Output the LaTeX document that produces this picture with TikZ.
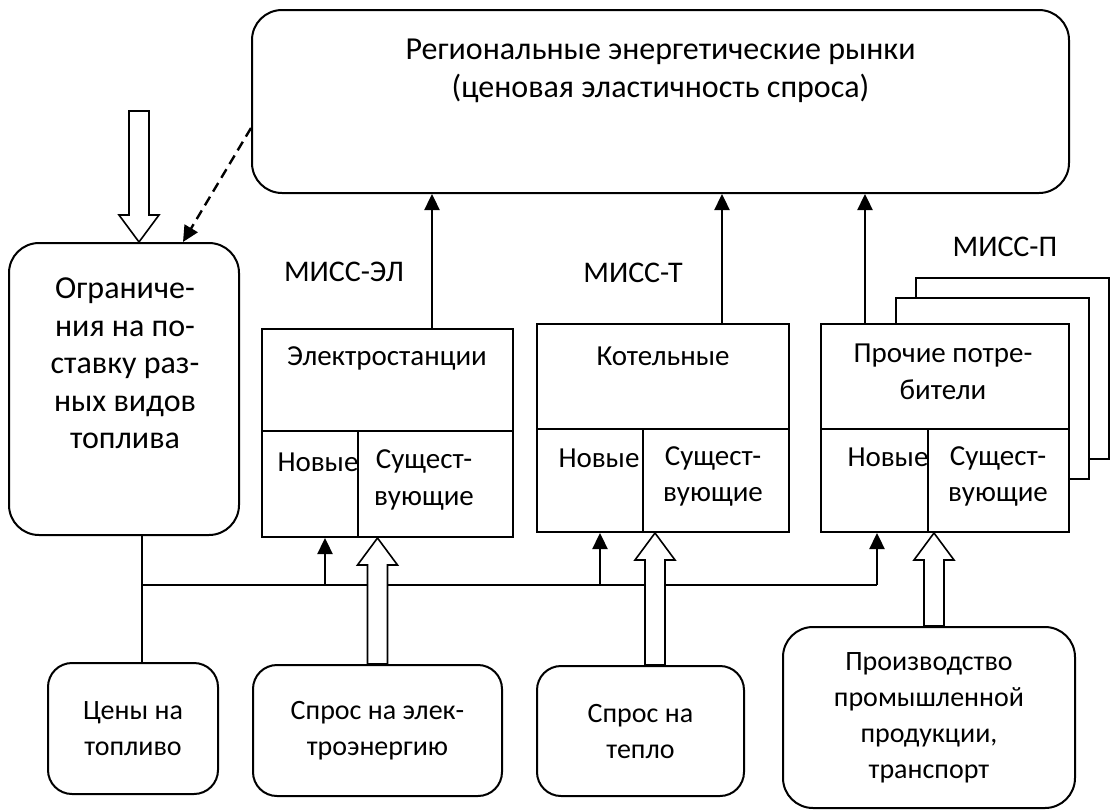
\documentclass[tikz,border=0pt]{standalone}
\usepackage{fontspec}
\setmainfont{Carlito}
\usepackage{tikz}
\usetikzlibrary{arrows.meta, positioning, calc}

% wide hollow arrow between two points on one vertical
\newcommand{\fatarrow}[2]{%
    \draw[hollow] let \p1=(#1), \p2=(#2), \n1={sign(\y2-\y1)} in
        (\x1-5pt,\y1) -- (\x1-5pt,\y2-\n1*13.5pt) -- (\x1-10pt,\y2-\n1*13.5pt)
        -- (\x1,\y2) -- (\x1+10pt,\y2-\n1*13.5pt) -- (\x1+5pt,\y2-\n1*13.5pt)
        -- (\x1+5pt,\y1) -- cycle;}

\begin{document}
\begin{tikzpicture}[x=0.5pt, y=-0.5pt,
    every node/.style={font=\fontsize{14.5pt}{18.4pt}\selectfont},
    bigtext/.style={font=\fontsize{16pt}{18.8pt}\selectfont},
    smalltext/.style={font=\fontsize{14pt}{18pt}\selectfont},
    rbox/.style={draw, line width=1pt, rounded corners=12pt, align=center, smalltext},
    cell/.style={draw, line width=1pt, fill=white},
    arr/.style={line width=1.2pt, -{Triangle[width=7.5pt,length=8pt]}},
    bus/.style={line width=0.8pt},
    hollow/.style={draw, line width=0.8pt, fill=white}]
    \useasboundingbox (0,0) rectangle (1110,810);

    % markets and fuel limits
    \node[rbox, rounded corners=15pt, minimum width=408.5pt, minimum height=91.5pt]
        (market) at (660.5,101.5) {};
    \node[align=center, bigtext] (marketText) at (660.5,71)
        {Региональные энергетические рынки\\(ценовая эластичность спроса)};
    \node[rbox, rounded corners=15pt, minimum width=115pt, minimum height=146pt]
        (limits) at (124,389) {};
    \node[align=center, bigtext] (limitsText) at (125,363.5)
        {Ограниче-\\ния на по-\\ставку раз-\\ных видов\\топлива};

    % model blocks
    \node[cell, minimum width=96.5pt, minimum height=90.5pt] (otherBackB) at (1012,368) {};
    \node[cell, minimum width=96.5pt, minimum height=90.5pt] (otherBackA) at (992.5,388.5) {};
    \node[cell, minimum width=125.5pt, minimum height=104pt] (elec) at (387.5,433) {};
    \node[cell, minimum width=126pt, minimum height=104pt] (boiler) at (663,428) {};
    \node[cell, minimum width=124pt, minimum height=104pt] (other) at (945,428) {};
    \coordinate (elec-split) at (358,431);
    \coordinate (boiler-split) at (643,428.5);
    \coordinate (other-split) at (928,429);
    \foreach \b in {elec,boiler,other}
        \draw[line width=1pt] (\b-split -| \b.west) -- (\b-split -| \b.east)
            (\b-split) -- (\b-split |- \b.south);

    \node (elecName) at (387,358) {Электростанции};
    \node (elecNew) at (318,462) {Новые};
    \node[align=center] (elecOld) at (424,480) {Сущест-\\вующие};
    \node (boilerName) at (663,356) {Котельные};
    \node (boilerNew) at (599,458) {Новые};
    \node[align=center] (boilerOld) at (713,476.5) {Сущест-\\вующие};
    \node[align=center] (otherName) at (943,372) {Прочие потре-\\бители};
    \node (otherNew) at (888,457) {Новые};
    \node[align=center] (otherOld) at (998,476.5) {Сущест-\\вующие};

    \node[font=\fontsize{15pt}{18pt}\selectfont] (elecTag) at (344,272) {МИСС-ЭЛ};
    \node[font=\fontsize{15pt}{18pt}\selectfont] (boilerTag) at (633,273) {МИСС-Т};
    \node[font=\fontsize{15pt}{18pt}\selectfont] (otherTag) at (1005,247) {МИСС-П};

    % inputs
    \node[rbox, minimum width=85pt, minimum height=65.5pt] (fuel) at (133,728.5)
        {Цены на\\топливо};
    \node[rbox, minimum width=124.5pt, minimum height=65.5pt] (dElec) at (377.5,730.5)
        {Спрос на элек-\\троэнергию};
    \node[rbox, minimum width=103.5pt, minimum height=65pt] (dHeat) at (640.5,731)
        {Спрос на\\тепло};
    \node[rbox, rounded corners=15pt, minimum width=146pt, minimum height=90.5pt]
        (prod) at (929,717.5)
        {Производство\\промышленной\\продукции,\\транспорт};

    % block outputs to markets
    \coordinate (elec-out) at (432,329);
    \coordinate (boiler-out) at (722,324);
    \coordinate (other-out) at (865,324);
    \foreach \b in {elec,boiler,other}
        \draw[arr] (\b-out) -- (\b-out |- market.south);

    % fuel prices bus
    \coordinate (bus) at (142,585);
    \coordinate (elec-in) at (325,585);
    \coordinate (boiler-in) at (600,585);
    \coordinate (other-in) at (877,585);
    \draw[bus] (bus |- limits.south) -- (bus |- fuel.north);
    \draw[bus] (bus) -- (other-in);
    \foreach \b in {elec,boiler,other}
        \draw[arr] (\b-in) -- (\b-in |- \b.south);

    % demand arrows
    \coordinate (supply) at (139,111);
    \coordinate (heat-up) at ($(dHeat.north)+(14.5,0)$);
    \coordinate (prod-up) at ($(prod.north)+(5,0)$);
    \fatarrow{supply}{supply |- limits.north}
    \fatarrow{dElec.north}{dElec.north |- elec.south}
    \fatarrow{heat-up}{heat-up |- boiler.south}
    \fatarrow{prod-up}{prod-up |- other.south}

    % price feedback
    \coordinate (market-fb) at ($(market.west)+(0,26.5)$);
    \draw[arr, dash pattern=on 5pt off 3pt] (market-fb) -- ($(limits.north)+(59,0)$);
\end{tikzpicture}
\end{document}
